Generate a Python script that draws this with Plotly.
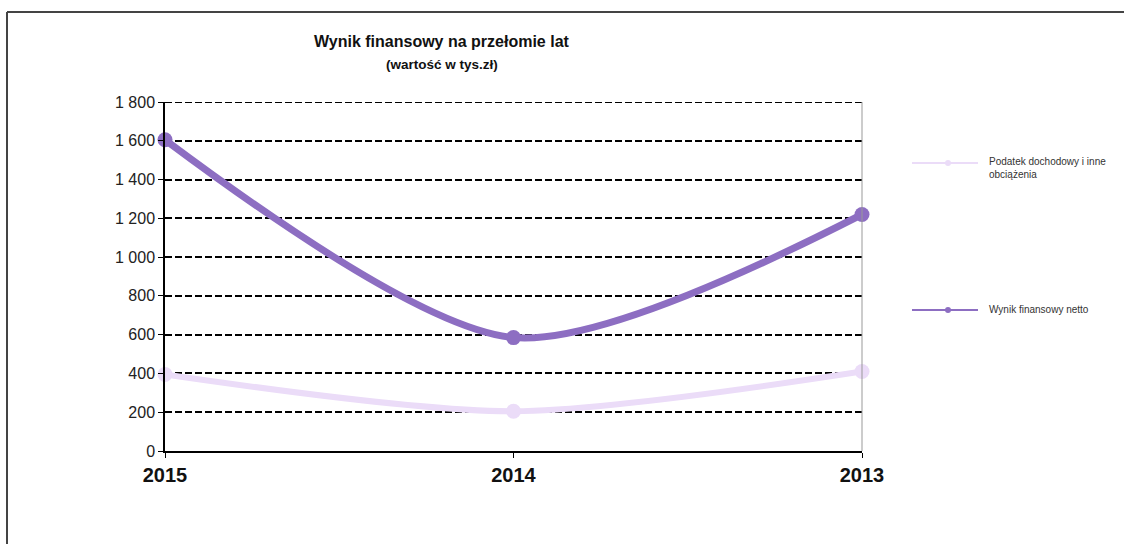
import plotly.graph_objects as go

# Lata (kolejność jak na osi) i wartości w tys. zł
years = ["2015", "2014", "2013"]
podatek = [395, 205, 410]
wynik_netto = [1605, 585, 1220]

y_ticks = [0, 200, 400, 600, 800, 1000, 1200, 1400, 1600, 1800]
y_labels = ["0", "200", "400", "600", "800", "1 000", "1 200", "1 400", "1 600", "1 800"]

name_podatek = "Podatek dochodowy i inne<br>obciążenia"
name_netto = "Wynik finansowy netto"

col_podatek = "#ebdcf8"
col_netto = "#8d6ec2"

FONT = "Liberation Sans, Arial, sans-serif"

fig = go.Figure()

fig.add_trace(go.Scatter(
    x=years, y=podatek, mode="lines+markers", name=name_podatek,
    line=dict(color=col_podatek, width=6, shape="spline", smoothing=0.8),
    marker=dict(color=col_podatek, size=15),
    showlegend=False, cliponaxis=False,
))
fig.add_trace(go.Scatter(
    x=years, y=wynik_netto, mode="lines+markers", name=name_netto,
    line=dict(color=col_netto, width=7, shape="spline", smoothing=0.8),
    marker=dict(color=col_netto, size=15),
    showlegend=False, cliponaxis=False,
))

L, R, T, B = 165, 862, 102, 451
W, H = 1124, 544
pw, ph = R - L, B - T


def px(x):
    return (x - L) / pw


def py(y):
    return (B - y) / ph


# Legend keys: long thin line with a small dot, text to the right
shapes = []
annotations = []
legend_items = [
    (name_podatek, col_podatek, 163, 160),
    (name_netto, col_netto, 310, 308),
]
for label, col, ky, ty in legend_items:
    shapes.append(dict(type="line", xref="paper", yref="paper",
                       x0=px(912), x1=px(978), y0=py(ky), y1=py(ky),
                       line=dict(color=col, width=2)))
    shapes.append(dict(type="circle", xref="paper", yref="paper",
                       x0=px(945), x1=px(951), y0=py(ky + 3), y1=py(ky - 3),
                       fillcolor=col, line=dict(color=col, width=0)))
    annotations.append(dict(text=label, xref="paper", yref="paper",
                            x=px(987), y=py(ty - 6), xanchor="left", yanchor="top",
                            align="left", showarrow=False,
                            font=dict(size=10, family=FONT, color="#333")))

# Top gridline at 1800 (dashed like the others)
shapes.append(dict(type="line", xref="paper", yref="y", x0=0, x1=1, y0=1800, y1=1800,
                   line=dict(color="black", width=2, dash="7px,3px")))
# Right edge of the plot area
shapes.append(dict(type="line", xref="paper", yref="paper", x0=1, x1=1, y0=0, y1=1,
                   line=dict(color="#999", width=1)))
# Outer frame (top and left)
shapes.append(dict(type="line", xref="paper", yref="paper", x0=px(7), x1=px(W + 5),
                   y0=py(12), y1=py(12), line=dict(color="#444", width=2)))
shapes.append(dict(type="line", xref="paper", yref="paper", x0=px(7), x1=px(7),
                   y0=py(12), y1=py(H + 5), line=dict(color="#444", width=2)))

annotations += [
    dict(text="<b>Wynik finansowy na przełomie lat</b>", xref="paper", yref="paper",
         x=px(442), y=py(42), xanchor="center", yanchor="middle", showarrow=False,
         font=dict(size=16, family=FONT, color="#111")),
    dict(text="<b>(wartość w tys.zł)</b>", xref="paper", yref="paper",
         x=px(442), y=py(64), xanchor="center", yanchor="middle", showarrow=False,
         font=dict(size=13.5, family=FONT, color="#111")),
]

fig.update_layout(
    width=W, height=H,
    margin=dict(l=L, r=W - R, t=T, b=H - B),
    paper_bgcolor="white", plot_bgcolor="white",
    font=dict(family=FONT, color="#222"),
    showlegend=False,
    xaxis=dict(
        type="category", range=[0, 2],
        showgrid=False, showline=True, linecolor="black", linewidth=1.5,
        ticks="outside", ticklen=5, tickcolor="black",
        tickfont=dict(size=20, family=FONT, color="#111", weight="bold"),
        zeroline=False,
    ),
    yaxis=dict(
        range=[0, 1800], tickvals=y_ticks, ticktext=y_labels,
        showgrid=True, gridcolor="black", gridwidth=2, griddash="7px,3px",
        showline=True, linecolor="black", linewidth=1.5,
        ticks="outside", ticklen=5, tickcolor="black",
        tickfont=dict(size=16, family=FONT, color="#222"),
        zeroline=False,
    ),
    annotations=annotations,
    shapes=shapes,
)

fig.write_html("out.html")
